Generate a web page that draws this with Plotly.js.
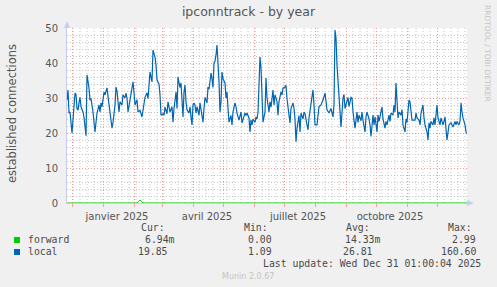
<!DOCTYPE html>
<html>
<head>
<meta charset="utf-8">
<script src="https://cdn.plot.ly/plotly-3.0.1.min.js"></script>
<style>html,body{margin:0;padding:0;background:#f0f0f0;}#chart{width:497px;height:287px;}</style>
</head>
<body>
<div id="chart"></div>
<script>
// ---- data (day offsets relative to 2025-01-01) ----
var localDays = [
  -36,-35,-34,-33,-32,-31,-28,-27,-26,-25,
  -24,-23,-22,-20,-19,-18,-17,-16,-14,-13,
  -12,-10,-9,-8,-6,-4,-3,-2,-1,1,
  2,4,5,6,8,9,10,12,13,14,
  16,17,19,20,22,23,24,25,27,29,
  30,31,32,34,35,37,39,40,42,44,
  45,47,49,50,52,53,54,56,57,58,
  60,61,62,64,65,67,69,70,71,73,
  74,75,77,78,79,80,81,82,83,84,
  86,87,88,89,90,91,92,93,94,96,
  97,98,100,101,102,104,105,106,108,109,
  110,111,112,113,114,116,117,118,119,120,
  122,123,124,125,126,128,129,130,132,133,
  134,136,138,139,140,142,143,144,146,147,
  148,149,150,152,153,154,155,156,157,158,
  159,160,162,163,164,166,167,168,170,171,
  172,174,175,176,178,179,180,182,183,184,
  186,187,188,190,191,192,193,194,196,197,
  198,200,201,202,204,205,206,208,209,210,
  211,212,214,215,216,218,219,220,222,223,
  224,226,227,228,230,231,232,233,234,236,
  237,238,240,241,242,244,245,246,248,249,
  250,252,254,255,256,258,259,260,262,263,
  264,266,267,268,270,271,272,274,275,276,
  278,279,280,282,283,284,286,287,288,290,
  291,292,293,294,295,296,298,299,300,302,
  303,304,306,307,309,310,312,313,314,316,
  317,318,320,321,322,324,325,326,327,328,
  330,331,332,333,334,335,337,338,340,341,
  342,344,345,346,348,349,350,352,353,354,
  356,357,358,359,360,362,363,364
];
var localValues = [
  29.4,32.3,25.7,26,23,20,31.4,31,27,26.5,
  28.6,30.2,27.5,26,24.5,22.2,19.2,36.6,32.9,29.4,
  29.8,26,22.2,20.3,25.7,28,26,28.6,27.5,31.7,
  30.9,32.9,30.5,28,24.3,21.4,23,28,33.1,32,
  26,28.9,28,30.9,30,31.4,30,26,29.4,33.1,
  34.6,31.5,28,29.5,26,26.5,24.6,26.5,30.2,31.5,
  29.8,37.4,34.6,43.7,41.7,39.4,35.1,34,30.9,25.1,
  25.5,25.1,27.4,25.5,28.9,26,27.5,23.1,27,31.7,
  27,36,33,34.3,30,24.6,31.7,33.7,29,26.6,
  25.7,27.5,24.6,22.3,28,28.6,28,25.7,27.5,25.1,
  28.6,27,23.1,27,30.2,28.6,33.1,32.5,37.1,35.5,
  33,40,40.5,42.3,45.1,34.6,26,28.9,37.4,35.5,
  34.3,30,31.7,27.1,23.1,25,22.3,26,28.6,27.5,
  25.7,23.7,26,22.9,24,25.7,25,25.7,24.3,20.3,
  23.7,22.3,24,23,24.6,24,26,36.6,41.7,38.6,
  27.1,23.1,26,35.7,30,26,28.9,27.4,32.3,28,
  30.9,29,25.1,29,31.7,30.9,32.8,33.1,33.6,29.8,
  25.1,22.9,27,28.6,27,24,17.5,21.4,25,20.3,
  25.7,24,26,25.5,22.3,20.9,24.3,28.9,30.4,32.3,
  28,22.3,22.3,25.7,27.5,28,28.6,29.4,31.4,28.6,
  26.6,25.7,26.6,27,24.6,28,49.4,47.1,39.4,31.7,
  27,21.7,30,31,27,29,30.2,27.5,30.2,30,
  26,21.4,26,23,25.1,23.5,26,23.7,20.3,24.6,
  26,24,22.3,19,25.1,22.3,24.6,20.3,25.1,23.3,
  25.7,27.4,24,21.4,23.3,22.3,25.1,23.3,25.7,25.1,
  28,26,34.3,29,24.3,26,25.1,26.6,22.3,20.3,
  24,23,29.4,28.9,23.7,23.7,23.7,25.7,24.3,23.7,
  22.3,25.7,28,24.3,22.3,20.3,18,22.9,21.4,23.3,
  22.3,24.3,22.3,25.1,28,24.3,22.3,24.3,22.3,23.3,
  24.6,18,20.9,22.3,22.9,22.3,21.7,23.3,22.3,23.3,
  22.3,23.3,28.6,26,24.3,22.3,20.3,19.85
];
var forwardDays   = [-36, 34, 35, 36, 37, 38, 39, 40, 364];
var forwardValues = [0, 0, 0.3, 0.7, 0.8, 0.7, 0.3, 0, 0];

var tickDates  = ['2025-01-15', '2025-04-15', '2025-07-15', '2025-10-15'];
var tickLabels = ['janvier 2025', 'avril 2025', 'juillet 2025', 'octobre 2025'];
var monthStarts = ['2024-12-01','2025-01-01','2025-02-01','2025-03-01','2025-04-01','2025-05-01',
                   '2025-06-01','2025-07-01','2025-08-01','2025-09-01','2025-10-01','2025-11-01','2025-12-01'];

var legendNames = ['forward', 'local'];
var legendColors = ['#00cc00', '#0066b3'];
var statHeaders = ['Cur:', 'Min:', 'Avg:', 'Max:'];
var forwardStats = ['6.94m', '0.00', '14.33m', '2.99'];
var localStats = ['19.85', '1.09', '26.81', '160.60'];
var lastUpdate = 'Last update: Wed Dec 31 01:00:04 2025';

// ---- helpers ----
var BASE = Date.UTC(2025, 0, 1);
function dayToDate(d) { return new Date(BASE + d * 86400000).toISOString().slice(0, 10); }
var L = 67, T = 28, W = 400, H = 175;
function px(x) { return (x - L) / W; }
function py(y) { return (T + H - y) / H; }

var redGrid = '#eb9a9a', grayGrid = '#c6c6c6', dotDash = '1px,2px';

var traces = [
  { x: localDays.map(dayToDate), y: localValues, type: 'scatter', mode: 'lines',
    line: { color: legendColors[1], width: 1.2 }, hoverinfo: 'skip', showlegend: false },
  { x: forwardDays.map(dayToDate), y: forwardValues, type: 'scatter', mode: 'lines',
    line: { color: legendColors[0], width: 1 }, cliponaxis: false, hoverinfo: 'skip', showlegend: false }
];

var shapes = [];
// weekly minor gridlines (Mondays)
for (var t = Date.UTC(2024, 11, 2); t < Date.UTC(2025, 11, 31); t += 7 * 86400000) {
  var ds = new Date(t).toISOString().slice(0, 10);
  if (ds.slice(8) === '01') continue;
  shapes.push({ type: 'line', xref: 'x', yref: 'paper', x0: ds, x1: ds, y0: 0, y1: 1, layer: 'below',
    line: { color: grayGrid, width: 1, dash: dotDash } });
}
var axisCol = '#c8ccf4';
shapes.push({ type: 'path', xref: 'paper', yref: 'paper', fillcolor: axisCol, line: { width: 0 },
  path: 'M ' + px(64) + ' ' + py(28) + ' L ' + px(70) + ' ' + py(28) + ' L ' + px(67) + ' ' + py(21) + ' Z' });
shapes.push({ type: 'path', xref: 'paper', yref: 'paper', fillcolor: axisCol, line: { width: 0 },
  path: 'M ' + px(467) + ' ' + py(200) + ' L ' + px(467) + ' ' + py(206) + ' L ' + px(474) + ' ' + py(203) + ' Z' });
// legend swatches
shapes.push({ type: 'rect', xref: 'paper', yref: 'paper', x0: px(14), x1: px(20), y0: py(243), y1: py(237),
  fillcolor: legendColors[0], line: { width: 0 } });
shapes.push({ type: 'rect', xref: 'paper', yref: 'paper', x0: px(14), x1: px(20), y0: py(255), y1: py(249),
  fillcolor: legendColors[1], line: { width: 0 } });

var mono = { family: 'DejaVu Sans Mono', size: 9.8, color: '#4a4a4a' };
function ann(text, x, y, xanchor, font, extra) {
  var a = { text: text, xref: 'paper', yref: 'paper', x: px(x), y: py(y), xanchor: xanchor, yanchor: 'middle',
    showarrow: false, font: font, borderpad: 0 };
  if (extra) for (var k in extra) a[k] = extra[k];
  return a;
}
var annotations = [];
var headerX = [140, 243, 345, 447];
statHeaders.forEach(function (h, i) { annotations.push(ann(h, headerX[i], 227, 'left', mono)); });
annotations.push(ann(legendNames[0], 27, 239.5, 'left', mono));
annotations.push(ann(legendNames[1], 27, 251.5, 'left', mono));
var fwdRight = [176, 273, 381, 477];
var locRight = [169, 273, 374, 477];
forwardStats.forEach(function (s, i) { annotations.push(ann(s, fwdRight[i], 239.5, 'right', mono)); });
localStats.forEach(function (s, i) { annotations.push(ann(s, locRight[i], 251.5, 'right', mono)); });
annotations.push(ann(lastUpdate, 482, 263.5, 'right', mono));
annotations.push(ann('Munin 2.0.67', 248, 276.5, 'center', { family: 'DejaVu Sans', size: 8, color: '#c4c4c4' }));
annotations.push(ann('RRDTOOL / TOBI OETIKER', 488, 53, 'center', { family: 'DejaVu Sans', size: 7.5, color: '#c4c4c4' }, { textangle: 90 }));
annotations.push(ann('established connections', 12, 113, 'center', { family: 'DejaVu Sans', size: 11.5, color: '#555555' }, { textangle: -90 }));

var layout = {
  width: 497, height: 287,
  margin: { l: L, r: 30, t: T, b: 84, pad: 0 },
  paper_bgcolor: '#f0f0f0', plot_bgcolor: '#ffffff',
  showlegend: false,
  title: { text: 'ipconntrack - by year', x: 0.5, xref: 'container', xanchor: 'center',
    y: 1 - 12 / 287, yref: 'container', yanchor: 'middle',
    font: { family: 'DejaVu Sans', size: 12.5, color: '#555555' } },
  xaxis: {
    type: 'date', range: [dayToDate(-36), dayToDate(364)], fixedrange: true,
    tickmode: 'array', tickvals: tickDates, ticktext: tickLabels, ticks: '',
    tickfont: { family: 'DejaVu Sans', size: 10, color: '#555555' }, ticklabelstandoff: 4,
    showgrid: false, zeroline: false, showline: true, linecolor: axisCol, linewidth: 1,
    minor: { tickmode: 'array', tickvals: monthStarts, ticks: 'outside', ticklen: 3, tickwidth: 1,
      tickcolor: '#f0a0a0', showgrid: true, gridcolor: redGrid, griddash: dotDash, gridwidth: 1 }
  },
  yaxis: {
    range: [0, 50], fixedrange: true, tickmode: 'linear', tick0: 0, dtick: 10, ticks: '',
    tickfont: { family: 'DejaVu Sans', size: 10, color: '#555555' }, ticklabelstandoff: 6,
    showgrid: true, gridcolor: redGrid, griddash: dotDash, gridwidth: 1,
    zeroline: false, showline: true, linecolor: axisCol, linewidth: 1,
    minor: { dtick: 2, tick0: 0, showgrid: true, gridcolor: grayGrid, griddash: dotDash, gridwidth: 1, ticks: '' }
  },
  shapes: shapes,
  annotations: annotations
};

Plotly.newPlot('chart', traces, layout, { staticPlot: true, displayModeBar: false });
</script>
</body>
</html>
